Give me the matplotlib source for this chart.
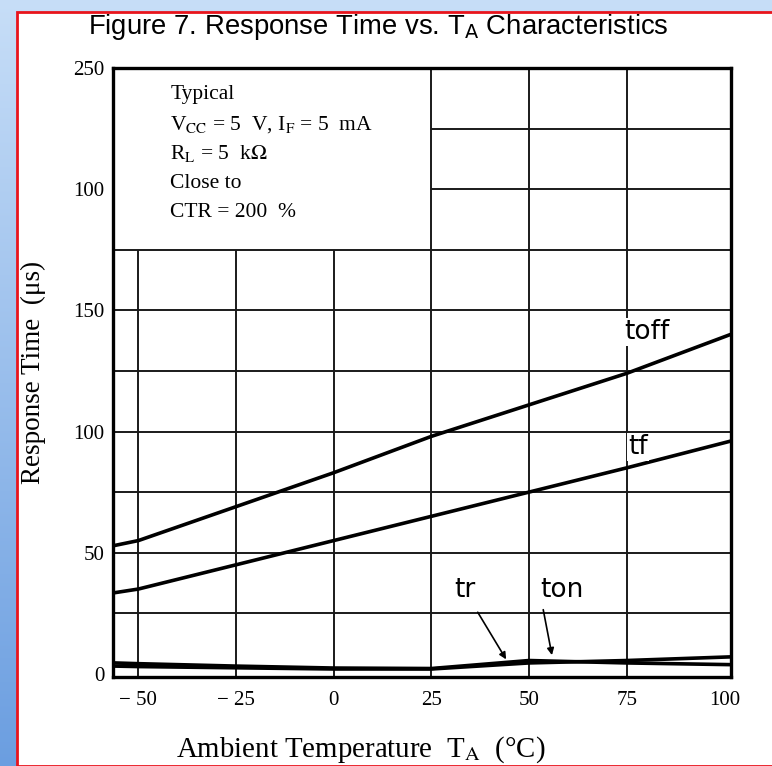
import numpy as np
import matplotlib.pyplot as plt
from matplotlib.patches import Rectangle

plt.rcParams['mathtext.fontset'] = 'stix'

# values
temp = [-56, -50, -25, 0, 25, 50, 75, 101.5]
t_off = [53, 55, 69, 83, 98, 111, 124, 140]
t_f = [33.5, 35, 45, 55, 65, 75, 85, 96]
t_r = [4.5, 4.2, 3.2, 2.4, 2.2, 5.5, 4.5, 3.8]
t_on = [3.2, 3.0, 2.5, 2.0, 2.0, 4.5, 5.5, 7.0]

x_ticks = [-50, -25, 0, 25, 50, 75, 100]
x_labels = ['\u2212 50', '\u2212 25', '0', '25', '50', '75', '100']
y_ticks = [0, 50, 100, 150, 200, 250]
y_labels = ['0', '50', '100', '150', '100', '250']

grid_x_low = [-50, -25, 0]
grid_x_full = [25, 50, 75]
grid_y_full = [25, 50, 75, 100, 125, 150, 175]
grid_y_right = [200, 225]

box_lines = ['Typical',
             r'V$_{\rm CC}$ = 5  V, I$_{\rm F}$ = 5  mA',
             r'R$_{\rm L}$ = 5  k$\Omega$',
             'Close to',
             'CTR = 200  %']

W, H = 772, 766
fig = plt.figure(figsize=(W / 100, H / 100), dpi=100)

# slide background: blue gradient strip, white panel with red frame
bg = fig.add_axes([0, 0, 1, 1], zorder=-2)
grad = np.linspace(0, 1, 256).reshape(-1, 1)
top_c = np.array([0.78, 0.87, 0.97])
bot_c = np.array([0.42, 0.62, 0.88])
img = top_c + grad[..., None] * (bot_c - top_c)
bg.imshow(img, aspect='auto', extent=[0, 1, 0, 1])
bg.add_patch(Rectangle((17 / W, 0), 1, 1 - 12 / H, facecolor='white',
                       edgecolor='#e8141c', linewidth=2))
bg.set_xlim(0, 1)
bg.set_ylim(0, 1)
bg.axis('off')

ax = fig.add_axes([113 / W, 1 - 677 / H, (731 - 113) / W, (677 - 68) / H])
ax.set_xlim(-56.5, 101.7)
ax.set_ylim(-1.3, 250)
ax.set_facecolor('white')

gkw = dict(color='#1a1a1a', linewidth=1.4, zorder=1)
ax.vlines(grid_x_low, -1.3, 175, **gkw)
ax.vlines(grid_x_full, -1.3, 250, **gkw)
ax.hlines(grid_y_full, -56.5, 101.7, **gkw)
ax.hlines(grid_y_right, 25, 101.7, **gkw)

lkw = dict(color='black', linewidth=2.6, zorder=3)
ax.plot(temp, t_off, **lkw)
ax.plot(temp, t_f, **lkw)
ax.plot(temp, t_r, **lkw)
ax.plot(temp, t_on, **lkw)

lab = dict(fontsize=19, family='DejaVu Sans', va='center', zorder=4,
           bbox=dict(facecolor='white', edgecolor='none', pad=1))
ax.text(74.5, 141, 'toff', ha='left', **lab)
ax.text(75.3, 93.6, 'tf', ha='left', **lab)
ax.text(33.5, 34.7, 'tr', ha='center', **lab)
ax.text(58.5, 34.7, 'ton', ha='center', **lab)

akw = dict(arrowstyle='-|>', color='black', lw=1.2, mutation_scale=10)
ax.annotate('', xy=(44.5, 5), xytext=(36.5, 26.4), arrowprops=akw, zorder=5)
ax.annotate('', xy=(56, 6.6), xytext=(53.5, 27.6), arrowprops=akw, zorder=5)

serif = 'Liberation Serif'
for i, line in enumerate(box_lines):
    ax.text(-41.8, 239 - i * 12.2, line, family=serif, fontsize=15.5,
            va='center', ha='left', zorder=4)

ax.set_xticks(x_ticks)
ax.set_xticklabels(x_labels, family=serif, fontsize=15)
ax.set_yticks(y_ticks)
ax.set_yticklabels(y_labels, family=serif, fontsize=15)
ax.tick_params(length=0)
ax.tick_params(axis='x', pad=10)
ax.tick_params(axis='y', pad=6)
for sp in ax.spines.values():
    sp.set_linewidth(2.4)
    sp.set_zorder(6)

fig.text(378 / W, 1 - 27 / H, r'Figure 7. Response Time vs. T$_{\rm A}$ Characteristics',
         family='Liberation Sans', fontsize=19.8, ha='center', va='center',
         math_fontfamily='dejavusans')
fig.text(33 / W, 1 - 372 / H, 'Response Time  (\u03bcs)', family=serif,
         fontsize=19.5, rotation=90, ha='center', va='center')
fig.text(361 / W, 1 - 750 / H, r'Ambient Temperature  T$_{\rm A}$  (°C)',
         family=serif, fontsize=20.8, ha='center', va='center')

fig.savefig('out.png', dpi=100)
